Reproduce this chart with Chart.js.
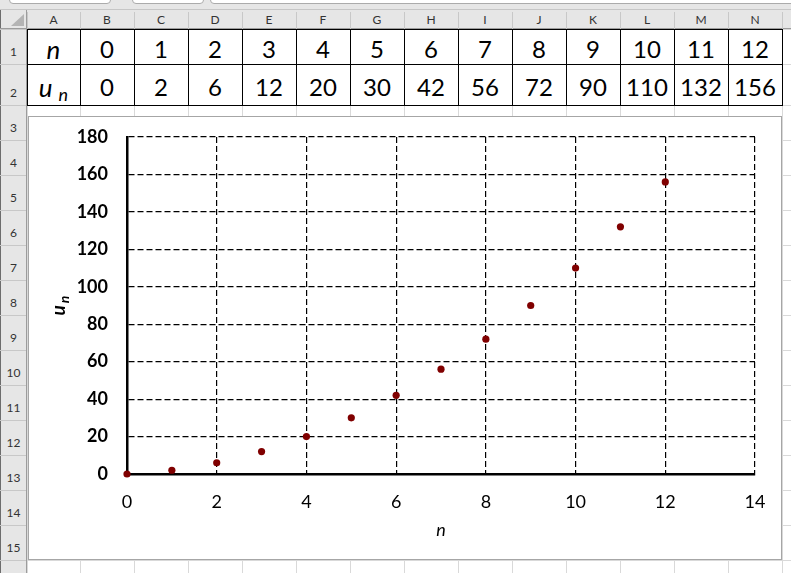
<!DOCTYPE html>
<html>
<head>
<meta charset="utf-8">
<script src="https://cdn.jsdelivr.net/npm/chart.js@4.4.0/dist/chart.umd.min.js"></script>
<style>
    body { margin: 0; width: 791px; height: 573px; overflow: hidden; background: #fff; position: relative; font-family: Lato, "Open Sans", sans-serif; }
    .abs { position: absolute; box-sizing: border-box; }
    .cell { position: absolute; display: flex; align-items: center; justify-content: center; color: #000; font-size: 24px; padding-top: 4px; box-sizing: border-box; }
    .hdr { position: absolute; display: flex; justify-content: center; color: #333; font-size: 12px; box-sizing: border-box; }
    #chartBox { position: absolute; left: 28px; top: 116px; width: 752px; height: 442px; border: 1px solid #a6a6a6; background: #fff; }
</style>
</head>
<body>
<div id="sheet"></div>
<div id="chartBox"><canvas id="chart" width="752" height="442"></canvas></div>

<script>
// data read from the sheet / chart
const nValues = [0, 1, 2, 3, 4, 5, 6, 7, 8, 9, 10, 11, 12];
const uValues = [0, 2, 6, 12, 20, 30, 42, 56, 72, 90, 110, 132, 156];
const colLetters = ['A', 'B', 'C', 'D', 'E', 'F', 'G', 'H', 'I', 'J', 'K', 'L', 'M', 'N', 'O'];
const rowNumbers = [1, 2, 3, 4, 5, 6, 7, 8, 9, 10, 11, 12, 13, 14, 15, 16];
const xTickMax = 14;
const yTickMax = 180;

// sheet geometry
const colEdges = [27, 80, 134, 188, 242, 296, 350, 404, 458, 512, 566, 620, 674, 728, 782, 836];
const rowEdges = [29, 64, 105, 140, 175, 210, 245, 280, 315, 350, 385, 420, 455, 490, 525, 560, 595];
const sheet = document.getElementById('sheet');

function box(x, y, w, h, bg, extra) {
    const d = document.createElement('div');
    d.className = 'abs';
    d.style.left = x + 'px';
    d.style.top = y + 'px';
    d.style.width = w + 'px';
    d.style.height = h + 'px';
    if (bg) d.style.background = bg;
    if (extra) Object.assign(d.style, extra);
    sheet.appendChild(d);
    return d;
}

// top strip with the formula-bar boxes
box(0, 0, 791, 10, '#e6e6e6');
box(9, -6, 102, 10, '#fff', { border: '1px solid #ababab', borderRadius: '0 0 4px 4px' });
box(132, -6, 72, 10, '#fff', { border: '1px solid #ababab', borderRadius: '0 0 4px 4px' });
box(210, -6, 600, 10, '#fff', { border: '1px solid #ababab', borderRadius: '0 0 4px 4px' });
box(0, 9, 791, 1, '#c6c6c6');

// column header row and row header column
box(0, 10, 791, 19, '#e6e6e6');
box(0, 10, 27, 563, '#e6e6e6');
box(0, 10, 1, 563, '#6d6d6d');
box(26, 10, 1, 563, '#9c9c9c');
box(0, 28, 791, 1, '#9c9c9c');
box(11, 14, 14, 13, null, { width: '0', height: '0', borderLeft: '13px solid transparent', borderBottom: '12px solid #b4b4b4' });

colEdges.forEach((x, i) => {
    box(x, 12, 1, 17, '#c8c8c8');
    if (i < colLetters.length) {
        const h = document.createElement('div');
        h.className = 'hdr';
        h.style.left = x + 'px';
        h.style.top = '12px';
        h.style.width = (colEdges[i + 1] - x) + 'px';
        h.style.height = '17px';
        h.textContent = colLetters[i];
        sheet.appendChild(h);
    }
    box(x, 29, 1, 544, '#d9d9d9');
});

rowEdges.forEach((y, i) => {
    box(27, y, 764, 1, '#d9d9d9');
    box(0, y, 26, 1, '#c8c8c8');
    if (i < rowNumbers.length) {
        const h = document.createElement('div');
        h.className = 'hdr';
        h.style.left = '1px';
        h.style.top = (y + 1) + 'px';
        h.style.width = '25px';
        h.style.height = (rowEdges[i + 1] - y - 1) + 'px';
        h.style.alignItems = 'flex-end';
        h.style.paddingBottom = '5px';
        h.textContent = rowNumbers[i];
        sheet.appendChild(h);
    }
});

// black borders around rows 1-2
[rowEdges[0], rowEdges[1], rowEdges[2]].forEach(y => box(27, y, 756, 1, '#000'));
colEdges.slice(0, 15).forEach(x => box(x, rowEdges[0], 1, rowEdges[2] - rowEdges[0] + 1, '#000'));

function cell(col, row, html, extra) {
    const d = document.createElement('div');
    d.className = 'cell';
    d.style.left = colEdges[col] + 'px';
    d.style.top = rowEdges[row] + 'px';
    d.style.width = (colEdges[col + 1] - colEdges[col]) + 'px';
    d.style.height = (rowEdges[row + 1] - rowEdges[row]) + 'px';
    d.innerHTML = html;
    if (extra) Object.assign(d.style, extra);
    sheet.appendChild(d);
}
cell(0, 0, '<i style="font-size:26px">n</i>');
cell(0, 1, '<i style="font-size:26px">u</i><i style="font-size:18px;position:relative;top:7px;margin-left:6px">n</i>');
nValues.forEach((n, i) => cell(i + 1, 0, String(n)));
uValues.forEach((u, i) => cell(i + 1, 1, String(u)));

// y-axis title with subscript, drawn on the canvas
const yTitlePlugin = {
    id: 'yTitle',
    afterDraw(chart) {
        const { ctx, chartArea } = chart;
        const cy = (chartArea.top + chartArea.bottom) / 2;
        ctx.save();
        ctx.translate(36, cy);
        ctx.rotate(-Math.PI / 2);
        ctx.fillStyle = '#000';
        ctx.textBaseline = 'alphabetic';
        ctx.font = 'italic bold 19px Lato';
        const wu = ctx.measureText('u').width;
        ctx.font = 'italic bold 14px Lato';
        const wn = ctx.measureText('n').width;
        const start = -(wu + 2 + wn) / 2;
        ctx.font = 'italic bold 19px Lato';
        ctx.fillText('u', start, 0);
        ctx.font = 'italic bold 14px Lato';
        ctx.fillText('n', start + wu + 2, 4);
        ctx.restore();
    }
};

const points = nValues.map((n, i) => ({ x: n, y: uValues[i] }));

new Chart(document.getElementById('chart'), {
    type: 'scatter',
    data: {
        datasets: [{
            label: 'u_n',
            data: points,
            backgroundColor: '#800000',
            borderColor: '#800000',
            borderWidth: 0,
            pointRadius: 3.6,
            clip: false
        }]
    },
    options: {
        responsive: false,
        animation: false,
        devicePixelRatio: 1,
        layout: { padding: { top: 20, right: 26, left: 0, bottom: 0 } },
        plugins: { legend: { display: false }, tooltip: { enabled: false } },
        scales: {
            x: {
                type: 'linear',
                min: 0,
                max: xTickMax,
                ticks: { stepSize: 2, color: '#000', padding: 17, font: { family: 'Lato', size: 18 } },
                grid: { color: '#000', lineWidth: 1.2, drawTicks: false },
                border: { color: '#000', width: 2.5, dash: [6, 3] },
                title: { display: true, text: 'n', color: '#000', padding: { top: 0, bottom: 18 }, font: { family: 'Lato', size: 18, style: 'italic' } },
                afterFit: s => { s.height = 85; s.paddingLeft = 0; s.paddingRight = 0; }
            },
            y: {
                min: 0,
                max: yTickMax,
                ticks: { stepSize: 20, color: '#000', padding: 19, font: { family: 'Lato', size: 18, weight: 'bold' } },
                grid: { color: '#000', lineWidth: 1.2, drawTicks: false },
                border: { color: '#000', width: 2.5, dash: [6, 3] },
                afterFit: s => { s.width = 98; s.paddingTop = 0; s.paddingBottom = 0; }
            }
        }
    },
    plugins: [yTitlePlugin]
});
</script>
</body>
</html>
